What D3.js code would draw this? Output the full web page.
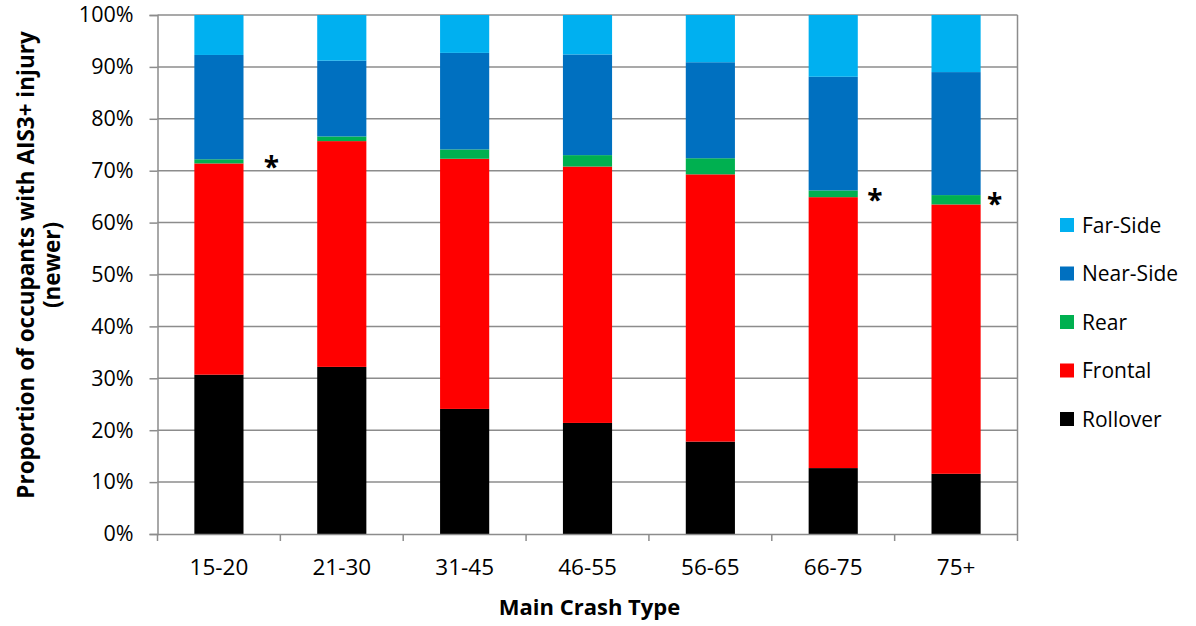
<!DOCTYPE html>
<html><head><meta charset="utf-8">
<script src="https://cdn.jsdelivr.net/npm/d3@7"></script>
<style>
body{margin:0;background:#fff;}
svg{display:block;font-family:"Open Sans",sans-serif;}
</style></head>
<body><svg id="c" width="1196" height="626"></svg>
<script>
const categories = ["15-20","21-30","31-45","46-55","56-65","66-75","75+"];
const seriesNames = ["Rollover","Frontal","Rear","Near-Side","Far-Side"];
const rollover = [30.7, 32.2, 24.1, 21.4, 17.8, 12.7, 11.6];
const frontal  = [40.7, 43.5, 48.2, 49.4, 51.5, 52.2, 51.9];
const rear     = [0.8, 0.9, 1.8, 2.2, 3.1, 1.3, 1.8];
const nearSide = [20.1, 14.6, 18.6, 19.4, 18.5, 21.9, 23.7];
const farSide  = [7.7, 8.8, 7.3, 7.6, 9.1, 11.9, 11.0];
const yTicks = [0,10,20,30,40,50,60,70,80,90,100];
const flagged = ["15-20","66-75","75+"];
const colors = {"Rollover":"#000000","Frontal":"#FF0000","Rear":"#00B050","Near-Side":"#0070C0","Far-Side":"#00B0F0"};

const rows = categories.map((c,i)=>({cat:c,"Rollover":rollover[i],"Frontal":frontal[i],"Rear":rear[i],"Near-Side":nearSide[i],"Far-Side":farSide[i]}));
const stacked = d3.stack().keys(seriesNames)(rows);

const svg = d3.select("#c");
const L=157.5, R=1017.5, T=15, B=534;
const x = d3.scaleBand().domain(categories).range([L,R]).paddingInner(0.6).paddingOuter(0.3);
const xb = d3.scaleBand().domain(categories).range([L,R]);
const y = d3.scaleLinear().domain([0,100]).range([B,T]);
const grid="#8c8c8c";

// gridlines
svg.append("g").selectAll("line").data(yTicks.filter(t=>t>0)).join("line")
 .attr("x1",L).attr("x2",R).attr("y1",d=>y(d)).attr("y2",d=>y(d))
 .attr("stroke",grid).attr("stroke-width",1.5);
svg.append("line").attr("x1",R).attr("x2",R).attr("y1",T).attr("y2",B).attr("stroke",grid).attr("stroke-width",1.5);

// bars
svg.append("g").selectAll("g").data(stacked).join("g").attr("fill",d=>colors[d.key])
 .selectAll("rect").data(d=>d).join("rect")
 .attr("x",d=>x(d.data.cat)).attr("width",x.bandwidth())
 .attr("y",d=>y(d[1])).attr("height",d=>y(d[0])-y(d[1]));

// y axis
const ya = svg.append("g").attr("transform",`translate(${L},0)`)
 .call(d3.axisLeft(y).tickValues(yTicks).tickFormat(d=>d+"%").tickSizeOuter(0).tickSize(8).tickPadding(16));
ya.selectAll("path,line").attr("stroke",grid).attr("stroke-width",1.5);
ya.selectAll("text").attr("font-size",21.5).attr("fill","#000").attr("font-family","Open Sans");

// x axis
const xa = svg.append("g").attr("transform",`translate(0,${B})`)
 .call(d3.axisBottom(xb).tickSize(0).tickPadding(25));
xa.select("path").attr("stroke",grid).attr("stroke-width",1.5);
xa.selectAll("text").attr("font-size",22.5).attr("fill","#000").attr("font-family","Open Sans");
svg.append("g").selectAll("line").data(d3.range(categories.length+1)).join("line")
 .attr("x1",i=>L+i*xb.step()).attr("x2",i=>L+i*xb.step()).attr("y1",B).attr("y2",B+7)
 .attr("stroke",grid).attr("stroke-width",1.5);

// asterisks
const dx = {"15-20":28,"66-75":17,"75+":14};
const dy = {"15-20":3,"66-75":5,"75+":4};
const rearTop = d3.index(stacked[2], d=>d.data.cat);
svg.append("g").selectAll("text").data(flagged).join("text")
 .attr("x",c=>x(c)+x.bandwidth()+dx[c]).attr("y",c=>y(rearTop.get(c)[1])+dy[c]+15)
 .attr("text-anchor","middle").attr("font-size",28).attr("font-weight","bold").text("*");

// axis titles
svg.append("text").attr("transform","translate(34,265) rotate(-90)").attr("text-anchor","middle")
 .attr("font-size",22.5).attr("font-weight","bold").text("Proportion of occupants with AIS3+ injury");
svg.append("text").attr("transform","translate(60,265) rotate(-90)").attr("text-anchor","middle")
 .attr("font-size",22.5).attr("font-weight","bold").text("(newer)");
svg.append("text").attr("x",(L+R)/2 + 2).attr("y",615).attr("text-anchor","middle")
 .attr("font-size",22).attr("font-weight","bold").text("Main Crash Type");

// legend
const legendOrder = ["Far-Side","Near-Side","Rear","Frontal","Rollover"];
const lg = svg.append("g").selectAll("g").data(legendOrder).join("g")
 .attr("transform",(d,i)=>`translate(1060,${225+i*48.5})`);
lg.append("rect").attr("x",0).attr("y",-7).attr("width",14).attr("height",14).attr("fill",d=>colors[d]);
lg.append("text").attr("x",22).attr("y",7.5).attr("font-size",21).text(d=>d);
</script></body></html>
